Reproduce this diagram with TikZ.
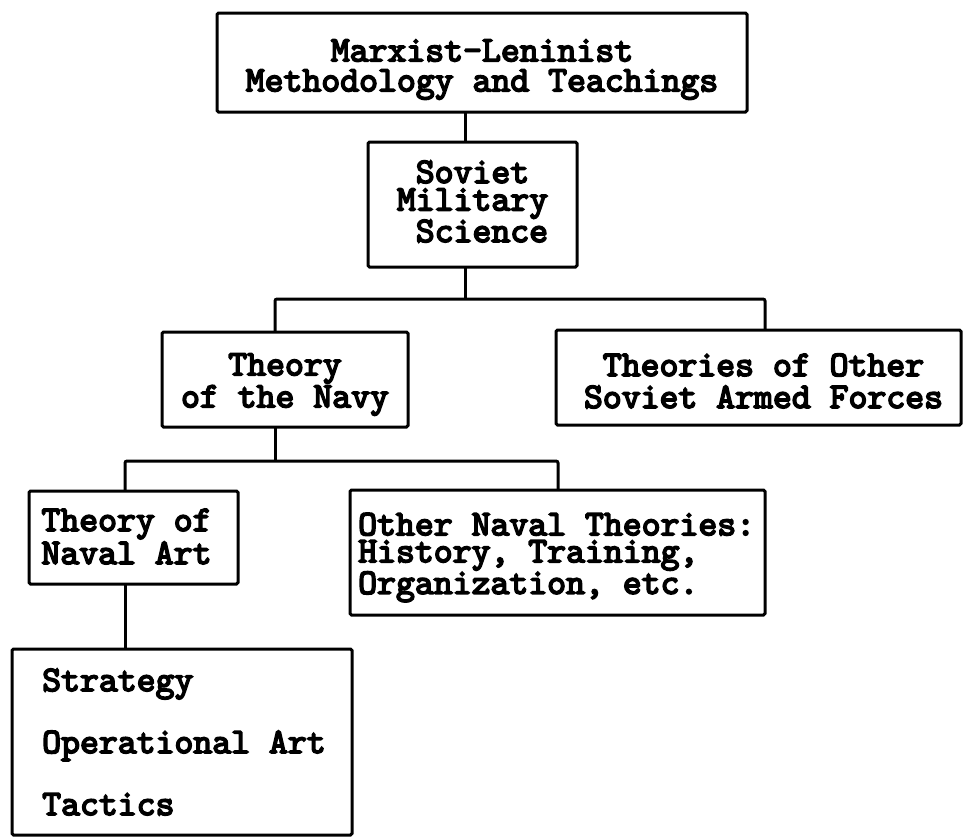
\documentclass[tikz,border=0pt]{standalone}
\usepackage{fontspec}
\newfontfamily\twfont{lmmono10-regular.otf}[FakeBold=4.5, WordSpace={1,0,0}]
\tikzset{
  box/.style={draw, line width=3pt, rounded corners=1.5pt, outer sep=0pt, inner sep=0pt},
  conn/.style={line width=3pt, rounded corners=2pt},
  tw/.style={inner sep=0pt, font=\twfont\frenchspacing\fontsize{36}{#1}\selectfont},
}
\begin{document}
\begin{tikzpicture}[x=1pt,y=-1pt]
\useasboundingbox (0,0) rectangle (963,836);
% boxes
\node[box, minimum width=530pt, minimum height=99pt] (b1) at (482,62.5) {};
\node[box, minimum width=209pt, minimum height=125pt] (b2) at (472.5,204.5) {};
\node[box, minimum width=246pt, minimum height=95pt] (b3) at (285,379.5) {};
\node[box, minimum width=405pt, minimum height=95pt] (b4) at (758.5,377.5) {};
\node[box, minimum width=209pt, minimum height=93pt] (b5) at (133.5,537.5) {};
\node[box, minimum width=415pt, minimum height=125pt] (b6) at (557.5,552.5) {};
\node[box, minimum width=340pt, minimum height=186pt] (b7) at (182,742) {};
% texts
\node[tw=30, align=center] (t1) at ([yshift=-7pt]b1.center)
  {Marxist-Leninist\\Methodology and Teachings};
\node[tw=27.5, align=left] (t2) at ([yshift=3pt]b2.center)
  {\hphantom{x}Soviet\\Military\\\hphantom{x}Science};
\node[tw=32, align=center] (t3) at ([yshift=-5pt]b3.center)
  {Theory\\of the Navy};
\node[tw=32, align=center] (t4) at ([xshift=5pt,yshift=-3.5pt]b4.center)
  {Theories of Other\\Soviet Armed Forces};
\node[tw=33, align=center] (t5) at ([xshift=-7pt,yshift=1pt]b5.center)
  {Theory of\\Naval Art};
\node[tw=27, align=left, anchor=west] (t6) at ([xshift=8pt,yshift=-5pt]b6.west)
  {Other Naval Theories:\\History, Training,\\Organization, etc.};
\node[tw=62, align=left, anchor=west] (t7) at ([xshift=30pt]b7.west)
  {Strategy\\Operational Art\\Tactics};
% junction coordinates
\coordinate (a2) at (465,0);
\coordinate (s1) at (465,299);
\coordinate (a3) at (275,0);
\coordinate (a4) at (765,0);
\coordinate (s2) at (275,461);
\coordinate (a5) at (125,0);
\coordinate (a6) at (558,0);
% connectors
\draw[conn] (b1.south -| a2) -- (b2.north -| a2);
\draw[conn] (b2.south -| s1) -- (s1);
\draw[conn] (b3.north -| a3) |- (s1) -| (b4.north -| a4);
\draw[conn] (b3.south -| s2) -- (s2);
\draw[conn] (b5.north -| a5) |- (s2) -| (b6.north -| a6);
\draw[conn] (b5.south -| a5) -- (b7.north -| a5);
\end{tikzpicture}
\end{document}
